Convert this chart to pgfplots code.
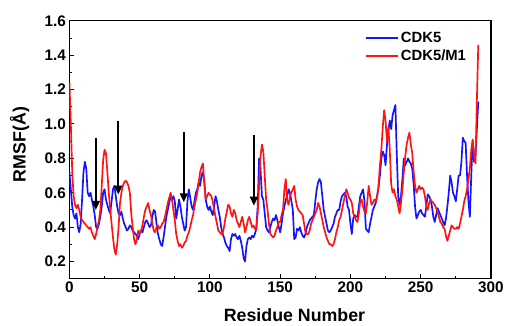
\documentclass[border=0pt]{standalone}
\usepackage{pgfplots}
\pgfplotsset{compat=1.18}
\usepackage{fontspec}
\setmainfont{Liberation Sans}
\usetikzlibrary{arrows.meta,calc}
\definecolor{cblue}{RGB}{20,20,255}
\definecolor{cred}{RGB}{255,20,20}
\begin{document}
\begin{tikzpicture}
\begin{axis}[
  scale only axis, width=425bp, height=260bp,
  xmin=0, xmax=300, ymin=0.1, ymax=1.6,
  xtick={0,50,...,300}, minor xtick={25,75,...,275},
  ytick={0.2,0.4,...,1.61}, minor ytick={0.1,0.3,...,1.5},
  yticklabel style={/pgf/number format/.cd,fixed,fixed zerofill,precision=1},
  /pgf/number format/assume math mode=true,
  tick label style={font=\fontsize{15.5}{15.5}\selectfont\bfseries},
  xtick pos=bottom, ytick pos=left, tick align=inside,
  major tick length=5bp, minor tick length=3bp,
  every tick/.style={black, line width=1pt},
  axis line style={line width=1.3pt},
  xlabel={Residue Number}, ylabel={RMSF(Å)},
  xlabel style={font=\fontsize{18}{18}\selectfont\bfseries, at={(axis description cs:0.534,-0.142)}, anchor=center},
  ylabel style={font=\fontsize{18}{18}\selectfont\bfseries, at={(axis description cs:-0.118,0.52)}, anchor=center},
  legend style={draw=none, fill=none, at={(rel axis cs:0.953,0.973)}, anchor=north east, font=\fontsize{15}{17}\selectfont\bfseries, row sep=2bp},
  legend cell align=left,
  legend image code/.code={\draw[#1, line width=1.6pt] (0cm,0cm) -- (32bp,0cm);},
]
\addplot[cblue, line width=1.7pt, line join=round] coordinates {
(0,0.72)(1,0.62)(2,0.52)(3,0.47)(4,0.45)(5,0.48)(6,0.40)(7,0.37)(8,0.42)(9,0.56)(10,0.72)(11,0.78)(12,0.74)(13,0.60)(14,0.58)(15,0.60)(16,0.56)(17,0.52)(18,0.47)(19,0.40)(20,0.39)(21,0.42)(22,0.46)(23,0.52)(24,0.60)(25,0.62)(26,0.56)(27,0.53)(28,0.50)(29,0.48)(30,0.55)(31,0.62)(32,0.64)(33,0.58)(34,0.52)(35,0.48)(36,0.47)(37,0.49)(38,0.45)(39,0.42)(40,0.40)(41,0.38)(42,0.39)(43,0.41)(44,0.40)(45,0.38)(46,0.37)(47,0.36)(48,0.35)(49,0.33)(50,0.36)
(51,0.38)(52,0.37)(53,0.40)(54,0.43)(55,0.44)(56,0.42)(57,0.40)(58,0.41)(59,0.46)(60,0.50)(61,0.49)(62,0.42)(63,0.36)(64,0.33)(65,0.30)(66,0.29)(67,0.34)(68,0.40)(69,0.46)(70,0.50)(71,0.54)(72,0.58)(73,0.56)(74,0.58)(75,0.55)(76,0.45)(77,0.50)(78,0.56)(79,0.52)(80,0.46)(81,0.42)(82,0.38)(83,0.40)(84,0.55)(85,0.62)(86,0.57)(87,0.52)(88,0.50)(89,0.55)(90,0.60)(91,0.62)(92,0.66)(93,0.64)(94,0.70)(95,0.72)(96,0.66)(97,0.56)(98,0.52)(99,0.50)(100,0.52)
(101,0.49)(102,0.47)(103,0.52)(104,0.58)(105,0.55)(106,0.50)(107,0.46)(108,0.40)(109,0.36)(110,0.34)(111,0.31)(112,0.29)(113,0.28)(114,0.26)(115,0.33)(116,0.36)(117,0.35)(118,0.36)(119,0.34)(120,0.33)(121,0.35)(122,0.32)(123,0.28)(124,0.22)(125,0.20)(126,0.29)(127,0.33)(128,0.34)(129,0.33)(130,0.35)(131,0.34)(132,0.36)(133,0.39)(134,0.52)(135,0.80)(136,0.74)(137,0.58)(138,0.56)(139,0.48)(140,0.40)(141,0.38)(142,0.37)(143,0.40)(144,0.43)(145,0.45)(146,0.44)(147,0.47)(148,0.44)(149,0.40)(150,0.37)
(151,0.42)(152,0.48)(153,0.52)(154,0.56)(155,0.58)(156,0.62)(157,0.60)(158,0.55)(159,0.50)(160,0.33)(161,0.34)(162,0.39)(163,0.38)(164,0.40)(165,0.37)(166,0.35)(167,0.34)(168,0.36)(169,0.40)(170,0.42)(171,0.44)(172,0.45)(173,0.46)(174,0.47)(175,0.55)(176,0.62)(177,0.66)(178,0.68)(179,0.66)(180,0.58)(181,0.50)(182,0.46)(183,0.42)(184,0.38)(185,0.37)(186,0.38)(187,0.40)(188,0.42)(189,0.46)(190,0.48)(191,0.50)(192,0.50)(193,0.55)(194,0.58)(195,0.59)(196,0.60)(197,0.58)(198,0.52)(199,0.50)(200,0.42)
(201,0.36)(202,0.45)(203,0.47)(204,0.46)(205,0.46)(206,0.52)(207,0.58)(208,0.60)(209,0.62)(210,0.55)(211,0.39)(212,0.38)(213,0.37)(214,0.42)(215,0.46)(216,0.50)(217,0.52)(218,0.54)(219,0.58)(220,0.63)(221,0.70)(222,0.80)(223,0.84)(224,0.82)(225,0.76)(226,0.88)(227,0.96)(228,1.02)(229,0.97)(230,1.05)(231,1.08)(232,1.11)(233,0.82)(234,0.58)(235,0.53)(236,0.58)(237,0.68)(238,0.80)(239,0.76)(240,0.78)(241,0.80)(242,0.78)(243,0.77)(244,0.74)(245,0.65)(246,0.52)(247,0.45)(248,0.47)(249,0.49)(250,0.50)
(251,0.48)(252,0.47)(253,0.46)(254,0.52)(255,0.59)(256,0.58)(257,0.56)(258,0.52)(259,0.46)(260,0.43)(261,0.47)(262,0.51)(263,0.49)(264,0.47)(265,0.45)(266,0.43)(267,0.41)(268,0.45)(269,0.52)(270,0.60)(271,0.70)(272,0.66)(273,0.60)(274,0.58)(275,0.55)(276,0.62)(277,0.70)(278,0.70)(279,0.78)(280,0.92)(281,0.90)(282,0.89)(283,0.70)(284,0.55)(285,0.46)(286,0.70)(287,0.90)(288,0.78)(289,0.82)(290,0.97)(291,1.13)
};
\addlegendentry{CDK5}
\addplot[cred, line width=1.7pt, line join=round] coordinates {
(0,1.24)(1,1.00)(2,0.72)(3,0.58)(4,0.53)(5,0.51)(6,0.53)(7,0.50)(8,0.46)(9,0.44)(10,0.43)(11,0.42)(12,0.41)(13,0.40)(14,0.39)(15,0.40)(16,0.37)(17,0.35)(18,0.33)(19,0.36)(20,0.40)(21,0.44)(22,0.50)(23,0.64)(24,0.79)(25,0.85)(26,0.83)(27,0.72)(28,0.60)(29,0.51)(30,0.42)(31,0.34)(32,0.27)(33,0.24)(34,0.30)(35,0.40)(36,0.54)(37,0.60)(38,0.64)(39,0.66)(40,0.67)(41,0.66)(42,0.64)(43,0.60)(44,0.48)(45,0.40)(46,0.33)(47,0.30)(48,0.33)(49,0.38)(50,0.36)
(51,0.38)(52,0.41)(53,0.46)(54,0.50)(55,0.52)(56,0.54)(57,0.50)(58,0.47)(59,0.42)(60,0.38)(61,0.37)(62,0.40)(63,0.41)(64,0.39)(65,0.40)(66,0.42)(67,0.43)(68,0.46)(69,0.50)(70,0.54)(71,0.57)(72,0.60)(73,0.56)(74,0.50)(75,0.44)(76,0.36)(77,0.32)(78,0.29)(79,0.30)(80,0.28)(81,0.29)(82,0.31)(83,0.32)(84,0.35)(85,0.37)(86,0.40)(87,0.44)(88,0.47)(89,0.52)(90,0.56)(91,0.60)(92,0.66)(93,0.72)(94,0.75)(95,0.77)(96,0.66)(97,0.56)(98,0.58)(99,0.60)(100,0.59)
(101,0.58)(102,0.55)(103,0.50)(104,0.46)(105,0.42)(106,0.38)(107,0.37)(108,0.36)(109,0.36)(110,0.40)(111,0.45)(112,0.49)(113,0.53)(114,0.52)(115,0.48)(116,0.46)(117,0.50)(118,0.48)(119,0.44)(120,0.42)(121,0.40)(122,0.43)(123,0.46)(124,0.42)(125,0.37)(126,0.40)(127,0.44)(128,0.46)(129,0.43)(130,0.40)(131,0.41)(132,0.39)(133,0.39)(134,0.48)(135,0.64)(136,0.81)(137,0.88)(138,0.84)(139,0.70)(140,0.56)(141,0.50)(142,0.42)(143,0.36)(144,0.35)(145,0.34)(146,0.35)(147,0.38)(148,0.40)(149,0.43)(150,0.43)
(151,0.47)(152,0.50)(153,0.62)(154,0.68)(155,0.55)(156,0.53)(157,0.58)(158,0.60)(159,0.62)(160,0.64)(161,0.56)(162,0.52)(163,0.50)(164,0.49)(165,0.48)(166,0.47)(167,0.42)(168,0.37)(169,0.36)(170,0.36)(171,0.38)(172,0.42)(173,0.44)(174,0.46)(175,0.48)(176,0.50)(177,0.54)(178,0.52)(179,0.48)(180,0.44)(181,0.40)(182,0.37)(183,0.34)(184,0.32)(185,0.30)(186,0.30)(187,0.29)(188,0.30)(189,0.33)(190,0.37)(191,0.40)(192,0.44)(193,0.46)(194,0.50)(195,0.54)(196,0.58)(197,0.62)(198,0.60)(199,0.57)(200,0.56)
(201,0.54)(202,0.48)(203,0.46)(204,0.44)(205,0.43)(206,0.48)(207,0.55)(208,0.56)(209,0.52)(210,0.49)(211,0.48)(212,0.55)(213,0.64)(214,0.58)(215,0.53)(216,0.54)(217,0.56)(218,0.55)(219,0.58)(220,0.64)(221,0.76)(222,0.85)(223,0.98)(224,1.08)(225,1.02)(226,0.90)(227,0.98)(228,0.85)(229,0.65)(230,0.60)(231,0.62)(232,0.58)(233,0.56)(234,0.52)(235,0.48)(236,0.54)(237,0.62)(238,0.72)(239,0.81)(240,0.88)(241,0.92)(242,0.95)(243,0.88)(244,0.83)(245,0.72)(246,0.64)(247,0.60)(248,0.62)(249,0.64)(250,0.62)
(251,0.63)(252,0.62)(253,0.58)(254,0.52)(255,0.50)(256,0.54)(257,0.56)(258,0.55)(259,0.54)(260,0.53)(261,0.51)(262,0.49)(263,0.46)(264,0.43)(265,0.42)(266,0.40)(267,0.39)(268,0.35)(269,0.32)(270,0.35)(271,0.38)(272,0.41)(273,0.40)(274,0.39)(275,0.39)(276,0.40)(277,0.39)(278,0.42)(279,0.46)(280,0.50)(281,0.55)(282,0.58)(283,0.62)(284,0.68)(285,0.74)(286,0.85)(287,0.91)(288,0.81)(289,0.77)(290,1.14)(291,1.46)
};
\addlegendentry{CDK5/M1}
\draw[black, line width=1.8pt, -{Triangle[width=8bp,length=9bp]}] (axis cs:18.8,0.92) -- (axis cs:18.8,0.50);
\draw[black, line width=1.8pt, -{Triangle[width=8bp,length=9bp]}] (axis cs:34.8,1.02) -- (axis cs:34.8,0.59);
\draw[black, line width=1.8pt, -{Triangle[width=8bp,length=9bp]}] (axis cs:81.4,0.955) -- (axis cs:81.4,0.545);
\draw[black, line width=1.8pt, -{Triangle[width=8bp,length=9bp]}] (axis cs:131.3,0.935) -- (axis cs:131.3,0.525);
\end{axis}
\path ($(current axis.south west)+(-70bp,-46bp)$) rectangle ($(current axis.north east)+(12bp,21bp)$);
\end{tikzpicture}
\end{document}
